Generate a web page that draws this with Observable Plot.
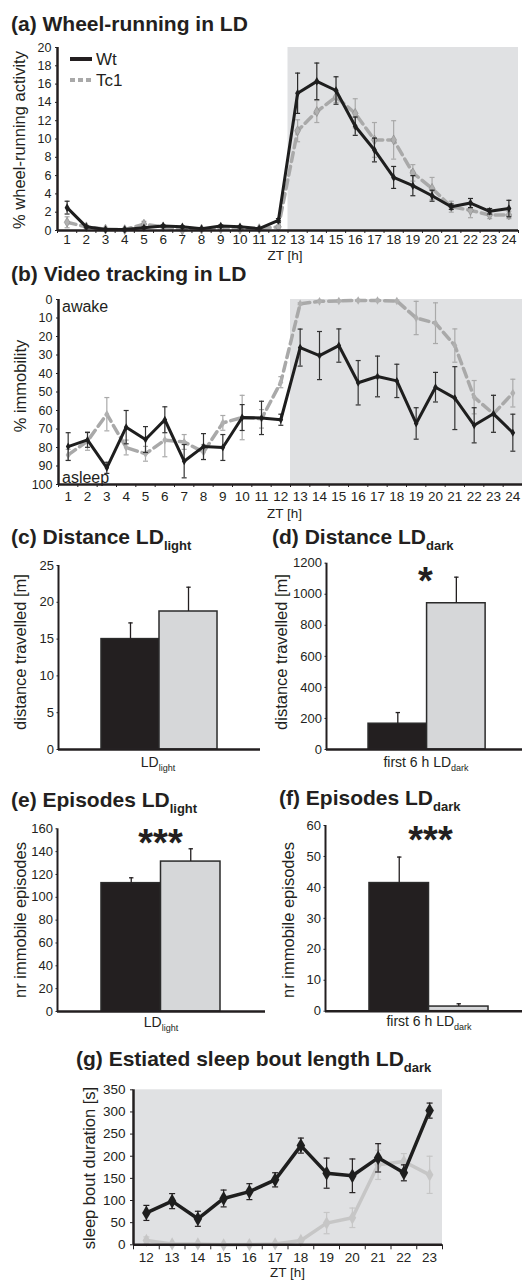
<!DOCTYPE html>
<html><head><meta charset="utf-8">
<script src="https://cdn.jsdelivr.net/npm/d3@7"></script>
<script src="https://cdn.jsdelivr.net/npm/@observablehq/plot@0.6"></script>
<style>
body{margin:0;background:#fff;}
#fig{position:relative;width:522px;height:1282px;overflow:hidden;background:#fff;font-family:'Liberation Sans',Arial,Helvetica,sans-serif;color:#231f20;}
.abs{position:absolute;white-space:nowrap;line-height:1;}
.title{font-weight:bold;font-size:21px;}
.title .sub{font-size:13px;position:relative;top:6px;}
.ylab{font-size:16.5px;transform:translate(-50%,-50%) rotate(-90deg);}
.cat{font-size:14px;transform:translateX(-50%);}
.cat .sub{font-size:9px;position:relative;top:4px;}
.xlab{font-size:13.5px;transform:translate(-50%,-50%);}
.star{font-size:38px;font-weight:bold;transform:translateX(-50%);}
.note{font-size:16px;}
.leg{font-size:17px;}
#fig svg{position:absolute;overflow:visible;}
</style></head>
<body><div id="fig"></div>
<script>
// ---------------- data ----------------
const zt = [1,2,3,4,5,6,7,8,9,10,11,12,13,14,15,16,17,18,19,20,21,22,23,24];
const wheelWt     = [2.5,0.4,0.1,0.1,0.3,0.5,0.4,0.2,0.5,0.4,0.2,1.1,15.0,16.3,15.3,11.4,8.8,5.8,4.9,3.8,2.6,3.0,2.1,2.4];
const wheelWtErr  = [0.7,0.1,0.05,0.05,0.1,0.1,0.1,0.1,0.1,0.1,0.05,0.2,2.2,2.0,1.5,1.0,1.3,1.2,1.1,0.6,0.3,0.5,0.3,0.9];
const wheelTc1    = [0.9,0.4,0.15,0.1,0.7,0.4,0.05,0.15,0.2,0.15,0.2,0.4,10.9,13.0,14.6,12.8,9.9,9.9,6.3,4.6,2.6,2.2,1.7,1.7];
const wheelTc1Err = [0.6,0.1,0.05,0.05,0.3,0.1,0.05,0.05,0.1,0.05,0.05,0.1,1.2,1.2,0.6,1.6,1.9,2.1,0.9,1.2,0.6,0.8,0.4,0.4];
const wheelYTicks = [0,2,4,6,8,10,12,14,16,18,20];

const videoWt     = [79.5,75.9,91,69,75.7,65,87.4,79.5,80,63.8,64,65,26,30.3,24.9,45,41.6,44,67,47.4,53.3,68,61.8,72];
const videoWtErr  = [7.5,4,3,9,7,7,9,7,7,7,9,3,10,13,9,12,11,9,8.5,8,17,9.5,10,10];
const videoTc1    = [84,76.5,62,80,83.4,76,77,82.5,66.7,63.8,64.5,44.7,2.3,1,0.8,0.5,0.5,0.8,10,12.8,24.9,52.8,61.8,50.6];
const videoTc1Err = [3,5,9,4,4,9,4,4,4,12,5,3,0.5,0.5,0.5,0.5,0.5,0.5,9,11,9,9,10,7.5];
const videoYTicks = [0,10,20,30,40,50,60,70,80,90,100];

const genotypes = ["Wt","Tc1"];
const distLight = [15.0, 18.75];  const distLightErr = [2.2, 3.3];
const distDark  = [166, 942];     const distDarkErr  = [72, 168];
const epiLight  = [112.4, 131.3]; const epiLightErr  = [4.7, 11.2];
const epiDark   = [41.4, 1.5];    const epiDarkErr   = [8.4, 0.9];
const distLightTicks = [0,5,10,15,20,25];
const distDarkTicks  = [0,200,400,600,800,1000,1200];
const epiLightTicks  = [0,20,40,60,80,100,120,140,160];
const epiDarkTicks   = [0,10,20,30,40,50,60];

const boutZT     = [12,13,14,15,16,17,18,19,20,21,22,23];
const boutWt     = [72,98.6,58.7,104.6,120,146.7,224,161.8,155.8,196.4,162.5,303];
const boutWtErr  = [17,17,17,19,18,16,17,34,38,32,18,17];
const boutTc1    = [9.8,2,2,0,0.5,2,9.8,49,61,180.6,188,158];
const boutTc1Err = [8,1,1,0.5,0.5,1,3,24,22,33,18,42];
const boutYTicks = [0,50,100,150,200,250,300,350];

// ---------------- styles ----------------
const FONT = "'Liberation Sans', Arial, Helvetica, sans-serif";
const INK = "#231f20";
const BG = "#e0e1e3";
const BAR_GRAY = "#d6d7d9";
const TC_GRAY = "#a9a9a9";
const TC_LIGHT = "#c6c6c6";
const fig = document.getElementById("fig");
const plain = d => String(d);

const cap = {draw(ctx, size){ const r = Math.sqrt(size/Math.PI); ctx.moveTo(-r,0); ctx.lineTo(r,0); }};
const style = fs => ({fontFamily: FONT, fontSize: fs + "px", color: INK, background: "none", overflow: "visible"});
const halfTicks = arr => [arr[0]-0.5, ...arr.map(v => v + 0.5)];
const phase = arr => [{x1: arr[0]-0.5, x2: arr[arr.length-1]+0.5}];
const clampf = (lo, hi) => v => Math.max(lo, Math.min(hi, v));

function place(el, left, top){ el.style.left = left + "px"; el.style.top = top + "px"; fig.appendChild(el); return el; }
function text(html, cls, left, top){ const d = document.createElement("div"); d.className = "abs " + cls; d.innerHTML = html; return place(d, left, top); }
function title(html, left, baseline){ return text(html, "title", left, baseline - 0.8465*21); }

function series(rows, y, e, o){
  const cl = o.clamp || (v => v);
  return [
    Plot.ruleX(rows, {x: "zt", y1: d => cl(d[y]-d[e]), y2: d => cl(d[y]+d[e]), stroke: o.err, strokeWidth: 1.2}),
    Plot.dot(rows, {x: "zt", y: d => cl(d[y]+d[e]), symbol: cap, r: o.capR || 2.5, stroke: o.err, strokeWidth: 1.2, fill: "none"}),
    Plot.dot(rows, {x: "zt", y: d => cl(d[y]-d[e]), symbol: cap, r: o.capR || 2.5, stroke: o.err, strokeWidth: 1.2, fill: "none"}),
    Plot.line(rows, {x: "zt", y, stroke: o.color, strokeWidth: o.width, strokeDasharray: o.dash || null}),
    Plot.dot(rows, {x: "zt", y, symbol: "diamond", r: o.r, fill: o.dot || o.color, stroke: o.dotStroke || "none", strokeWidth: 0.6})
  ];
}

// ---------------- (a) wheel running ----------------
title("(a) Wheel-running in LD", 11, 30.5);
const wheel = zt.map((z,i) => ({zt: z, wt: wheelWt[i], wtE: wheelWtErr[i], tc: wheelTc1[i], tcE: wheelTc1Err[i]}));
const xA = [0.5, 24.5];
const pa = Plot.plot({
  width: 522, height: 262, marginTop: 47, marginBottom: 32, marginLeft: 57, marginRight: 4,
  x: {domain: xA}, y: {domain: [0, 20]},
  style: style(13.5),
  marks: [
    Plot.rect(phase(zt.filter(z => z > 12)), {x1: "x1", x2: "x2", fill: BG}),
    Plot.axisY({ticks: wheelYTicks, tickSize: 2, tickPadding: 4, fontSize: 12.5, tickFormat: plain, label: null}),
    Plot.axisX({ticks: zt, tickSize: 0, tickPadding: 3.5, tickFormat: plain, label: null}),
    Plot.axisX({ticks: halfTicks(zt), tickSize: 3, tickFormat: () => "", label: null}),
    ...series(wheel, "tc", "tcE", {err: TC_GRAY, color: TC_GRAY, width: 3.5, dash: "9,5", r: 3, dot: "#b0b0b0", dotStroke: "#888", clamp: clampf(0, 20)}),
    ...series(wheel, "wt", "wtE", {err: "#2a2a2a", color: "#1e1e1e", width: 3, r: 2.6, clamp: clampf(0, 20)}),
    Plot.ruleY([0], {strokeWidth: 2.5, stroke: INK}),
    Plot.ruleX([xA[0]], {strokeWidth: 2.5, stroke: INK})
  ]
});
place(pa, 0, 0);
text("% wheel-running activity", "ylab", 18.5, 139.5);
text("ZT [h]", "xlab", 285, 256);
{
  const leg = document.createElement("div"); leg.className = "abs leg";
  leg.innerHTML = `<div style="position:absolute;left:0;top:0;width:60px;height:16px">
      <svg width="24" height="16" style="position:absolute;left:0;top:0"><line x1="1" x2="23" y1="8" y2="8" stroke="${INK}" stroke-width="4"/></svg>
      <span style="position:absolute;left:27px;top:0">Wt</span></div>
    <div style="position:absolute;left:0;top:21px;width:60px;height:16px">
      <svg width="24" height="16" style="position:absolute;left:0;top:0"><line x1="1" x2="23" y1="8" y2="8" stroke="${TC_GRAY}" stroke-width="4" stroke-dasharray="5,3"/></svg>
      <span style="position:absolute;left:27px;top:0">Tc1</span></div>`;
  place(leg, 69, 51);
}

// ---------------- (b) video tracking ----------------
title("(b) Video tracking in LD", 11, 281);
const video = zt.map((z,i) => ({zt: z, wt: videoWt[i], wtE: videoWtErr[i], tc: videoTc1[i], tcE: videoTc1Err[i]}));
const xB = [0.5, 24.5];
const pb = Plot.plot({
  width: 522, height: 250, marginTop: 29, marginBottom: 36, marginLeft: 58, marginRight: 0,
  x: {domain: xB}, y: {domain: [0, 100], reverse: true},
  style: style(13.5),
  marks: [
    Plot.rect(phase(zt.filter(z => z > 12)), {x1: "x1", x2: "x2", fill: BG}),
    Plot.axisY({ticks: videoYTicks, tickSize: 2, tickPadding: 4, fontSize: 12.5, tickFormat: plain, label: null}),
    Plot.axisX({ticks: zt, tickSize: 0, tickPadding: 6.5, tickFormat: plain, label: null}),
    Plot.axisX({ticks: halfTicks(zt), tickSize: 3, tickFormat: () => "", label: null}),
    ...series(video, "tc", "tcE", {err: TC_GRAY, color: TC_GRAY, width: 3.5, dash: "9,5", r: 2.6, dot: "#b0b0b0", clamp: clampf(0, 100)}),
    ...series(video, "wt", "wtE", {err: "#333", color: "#1e1e1e", width: 3, r: 2.4, clamp: clampf(0, 100)}),
    Plot.ruleY([100], {strokeWidth: 2.5, stroke: INK}),
    Plot.ruleX([xB[0]], {strokeWidth: 2.5, stroke: INK})
  ]
});
place(pb, 0, 270);
text("% immobility", "ylab", 19.5, 386);
text("ZT [h]", "xlab", 284.5, 513.5);
text("awake", "note", 62, 299);
text("asleep", "note", 62, 470);

// ---------------- bar charts ----------------
function barChart({values, errors, yTicks, width, height, mt, mb, ml, mr, xDomain}){
  const rows = genotypes.map((g,i) => ({g, i, v: values[i], e: errors[i]}));
  const fills = {Wt: INK, Tc1: BAR_GRAY};
  return Plot.plot({
    width, height, marginTop: mt, marginBottom: mb, marginLeft: ml, marginRight: mr,
    x: {domain: xDomain, axis: null}, y: {domain: [yTicks[0], yTicks[yTicks.length-1]]},
    style: style(13),
    marks: [
      Plot.rect(rows, {x1: "i", x2: d => d.i + 1, y1: 0, y2: "v", fill: d => fills[d.g], stroke: "#2b2b2b", strokeWidth: 1.5}),
      Plot.ruleX(rows, {x: d => d.i + 0.5, y1: "v", y2: d => d.v + d.e, stroke: INK, strokeWidth: 1.3}),
      Plot.dot(rows, {x: d => d.i + 0.5, y: d => d.v + d.e, symbol: cap, r: 2.2, stroke: INK, strokeWidth: 1.3, fill: "none"}),
      Plot.axisY({ticks: yTicks, tickSize: 1.5, tickPadding: 3, fontSize: 13, tickFormat: plain, label: null}),
      Plot.ruleY([yTicks[0]], {strokeWidth: 2.5, stroke: INK}),
      Plot.ruleX([xDomain[0]], {strokeWidth: 2, stroke: INK})
    ]
  });
}

title('(c) Distance LD<span class="sub">light</span>', 11, 543.5);
place(barChart({values: distLight, errors: distLightErr, yTicks: distLightTicks, width: 262, height: 235, mt: 20, mb: 31, ml: 58, mr: 2, xDomain: [-0.741, 2.741]}), 0, 545);
text("distance travelled [m]", "ylab", 20, 652);
text('LD<span class="sub">light</span>', "cat", 158, 766.7 - 0.8465*14);

title('(d) Distance LD<span class="sub">dark</span>', 272, 543.5);
place(barChart({values: distDark, errors: distDarkErr, yTicks: distDarkTicks, width: 260, height: 235, mt: 17.7, mb: 31, ml: 64, mr: 0, xDomain: [-0.718, 2.63]}), 262, 545);
text("distance travelled [m]", "ylab", 281, 652);
text('first 6 h LD<span class="sub">dark</span>', "cat", 426, 766.7 - 0.8465*14);
text("*", "star", 425.5, 572.5 - 10.4);

title('(e) Episodes LD<span class="sub">light</span>', 11, 806.5);
place(barChart({values: epiLight, errors: epiLightErr, yTicks: epiLightTicks, width: 270, height: 225, mt: 13.3, mb: 29, ml: 57, mr: 5, xDomain: [-0.739, 2.756]}), 0, 815);
text("nr immobile episodes", "ylab", 20, 920);
text('LD<span class="sub">light</span>', "cat", 161, 1027 - 0.8465*14);
text("***", "star", 160.5, 834 - 10.4);

title('(f) Episodes LD<span class="sub">dark</span>', 279, 804.5);
place(barChart({values: epiDark, errors: epiDarkErr, yTicks: epiDarkTicks, width: 260, height: 225, mt: 10, mb: 29.3, ml: 63, mr: 0, xDomain: [-0.739, 2.571]}), 262, 815);
text("nr immobile episodes", "ylab", 288, 920);
text('first 6 h LD<span class="sub">dark</span>', "cat", 429, 1026 - 0.8465*14);
text("***", "star", 430.5, 831 - 10.4);

// ---------------- (g) sleep bout length ----------------
title('(g) Estiated sleep bout length LD<span class="sub">dark</span>', 76, 1066);
const bout = boutZT.map((z,i) => ({zt: z, wt: boutWt[i], wtE: boutWtErr[i], tc: boutTc1[i], tcE: boutTc1Err[i]}));
const xG = [11.5, 23.5];
const pg = Plot.plot({
  width: 522, height: 212, marginTop: 19.3, marginBottom: 37.7, marginLeft: 133, marginRight: 80,
  x: {domain: xG}, y: {domain: [0, 350]},
  style: style(13.5),
  marks: [
    Plot.rect(phase(boutZT), {x1: "x1", x2: "x2", fill: BG}),
    Plot.axisY({ticks: boutYTicks, tickSize: 3, tickPadding: 5, fontSize: 13.5, tickFormat: plain, label: null}),
    Plot.axisX({ticks: boutZT, tickSize: 0, tickPadding: 7.5, tickFormat: plain, label: null}),
    Plot.axisX({ticks: halfTicks(boutZT), tickSize: 5, tickFormat: () => "", label: null}),
    ...series(bout, "tc", "tcE", {err: TC_LIGHT, color: TC_LIGHT, width: 3.5, r: 4, capR: 3, clamp: clampf(0, 350)}),
    ...series(bout, "wt", "wtE", {err: INK, color: "#1e1e1e", width: 3.5, r: 4.5, capR: 3, clamp: clampf(0, 350)}),
    Plot.ruleY([0], {strokeWidth: 2.5, stroke: INK}),
    Plot.ruleX([xG[0]], {strokeWidth: 2.5, stroke: INK})
  ]
});
place(pg, 0, 1070);
text("sleep bout duration [s]", "ylab", 89, 1168);
text("ZT [h]", "xlab", 287.5, 1273);
</script></body></html>
